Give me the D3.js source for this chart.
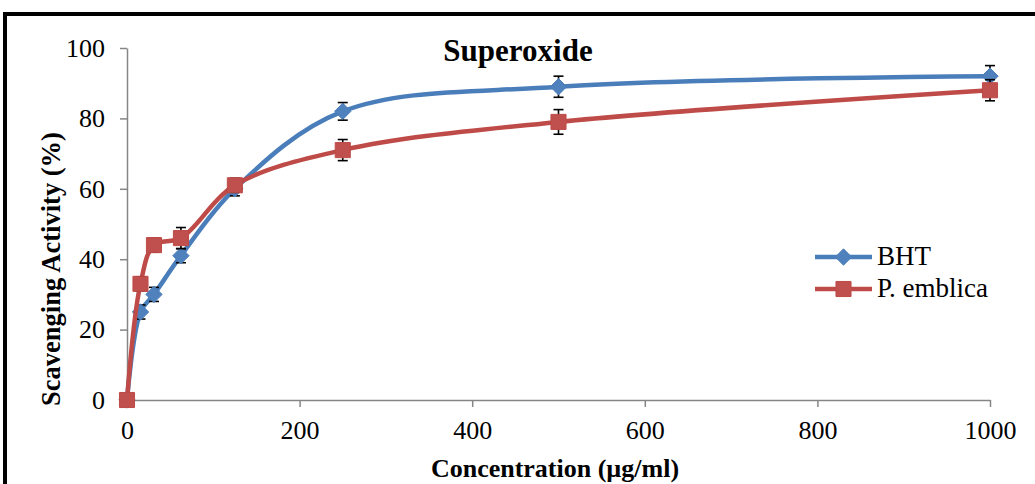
<!DOCTYPE html>
<html>
<head>
<meta charset="utf-8">
<script src="https://cdn.jsdelivr.net/npm/d3@7"></script>
<style>
  body { margin: 0; background: #fff; }
  svg { display: block; }
  text { font-family: "Liberation Serif", "Times New Roman", serif; fill: #000; }
</style>
</head>
<body>
<div id="chart"></div>
<script>
// Concentrations (µg/ml)
var concentrations = [0, 15.625, 31.25, 62.5, 125, 250, 500, 1000];
// Scavenging activity (%)
var bhtValues = [0, 25, 30, 41, 60, 82, 89, 92];
var bhtErrors = [0, 2, 2, 2, 2, 2.5, 3, 3];
var emblicaValues = [0, 33, 44, 46, 61, 71, 79, 88];
var emblicaErrors = [0, 2, 2, 3, 2, 3, 3.5, 3];
var xTicks = [0, 200, 400, 600, 800, 1000];
var yTicks = [0, 20, 40, 60, 80, 100];

var W = 1035, H = 484;
var margin = { left: 127, right: 45, top: 48, bottom: 84 };

var svg = d3.select('#chart').append('svg')
  .attr('width', W)
  .attr('height', H);

// Chart frame (thick black border, cut off right and bottom)
svg.append('rect')
  .attr('x', 5).attr('y', 14)
  .attr('width', W + 20).attr('height', H + 20)
  .attr('fill', 'none')
  .attr('stroke', '#000')
  .attr('stroke-width', 4);

var x = d3.scaleLinear().domain([0, 1000]).range([margin.left, W - margin.right]);
var y = d3.scaleLinear().domain([0, 100]).range([H - margin.bottom, margin.top]);

// Axes
var xAxis = d3.axisBottom(x).tickValues(xTicks).tickFormat(d3.format('d'))
  .tickSizeInner(7).tickSizeOuter(0).tickPadding(14);
var yAxis = d3.axisLeft(y).tickValues(yTicks).tickFormat(d3.format('d'))
  .tickSizeInner(7).tickSizeOuter(0).tickPadding(15);

var gx = svg.append('g')
  .attr('transform', 'translate(0,' + y(0) + ')')
  .call(xAxis);
var gy = svg.append('g')
  .attr('transform', 'translate(' + x(0) + ',0)')
  .call(yAxis);

[gx, gy].forEach(function(g) {
  g.select('.domain').attr('stroke', '#868686').attr('stroke-width', 1.5);
  g.selectAll('.tick line').attr('stroke', '#868686').attr('stroke-width', 1.5);
  g.selectAll('.tick text')
    .attr('font-family', '"Liberation Serif", "Times New Roman", serif')
    .attr('font-size', 26)
    .attr('fill', '#000');
});
gx.selectAll('.tick text').attr('dy', '0.71em');

// Title
svg.append('text')
  .attr('x', 518).attr('y', 61)
  .attr('text-anchor', 'middle')
  .attr('font-size', 31)
  .attr('font-weight', 'bold')
  .text('Superoxide');

// Axis titles
svg.append('text')
  .attr('x', 555).attr('y', 477)
  .attr('text-anchor', 'middle')
  .attr('font-size', 26)
  .attr('font-weight', 'bold')
  .text('Concentration (µg/ml)');

svg.append('text')
  .attr('transform', 'translate(60,269) rotate(-90)')
  .attr('text-anchor', 'middle')
  .attr('font-size', 26.5)
  .attr('font-weight', 'bold')
  .text('Scavenging Activity (%)');

var series = [
  { name: 'BHT', values: bhtValues, errors: bhtErrors, line: '#4A7EBB', fill: '#4F81BD', symbol: d3.symbolDiamond2, size: 170 },
  { name: 'P. emblica', values: emblicaValues, errors: emblicaErrors, line: '#BE4B48', fill: '#C0504D', symbol: d3.symbolSquare2, size: 290 }
];

var line = d3.line()
  .x(function(d) { return x(d.c); })
  .y(function(d) { return y(d.v); })
  .curve(d3.curveCatmullRom.alpha(0.5));

series.forEach(function(s) {
  var pts = concentrations.map(function(c, i) { return { c: c, v: s.values[i], e: s.errors[i] }; });
  var g = svg.append('g');

  g.append('path')
    .datum(pts)
    .attr('d', line)
    .attr('fill', 'none')
    .attr('stroke', s.line)
    .attr('stroke-width', 4.5)
    .attr('stroke-linejoin', 'round');

  // Error bars
  var eb = g.selectAll('.err').data(pts.filter(function(d) { return d.e > 0; }))
    .enter().append('g').attr('class', 'err')
    .attr('stroke', '#000').attr('stroke-width', 1.6);
  eb.append('line')
    .attr('x1', function(d) { return x(d.c); }).attr('x2', function(d) { return x(d.c); })
    .attr('y1', function(d) { return y(d.v - d.e); }).attr('y2', function(d) { return y(d.v + d.e); });
  eb.append('line')
    .attr('x1', function(d) { return x(d.c) - 5; }).attr('x2', function(d) { return x(d.c) + 5; })
    .attr('y1', function(d) { return y(d.v + d.e); }).attr('y2', function(d) { return y(d.v + d.e); });
  eb.append('line')
    .attr('x1', function(d) { return x(d.c) - 5; }).attr('x2', function(d) { return x(d.c) + 5; })
    .attr('y1', function(d) { return y(d.v - d.e); }).attr('y2', function(d) { return y(d.v - d.e); });

  g.selectAll('.mark').data(pts)
    .enter().append('path')
    .attr('class', 'mark')
    .attr('transform', function(d) { return 'translate(' + x(d.c) + ',' + y(d.v) + ')'; })
    .attr('d', d3.symbol().type(s.symbol).size(s.size))
    .attr('fill', s.fill)
    .attr('stroke', s.line)
    .attr('stroke-width', 1);
});

// Legend
var legend = svg.append('g');
series.forEach(function(s, i) {
  var ly = 257 + i * 32;
  legend.append('line')
    .attr('x1', 815).attr('x2', 872)
    .attr('y1', ly).attr('y2', ly)
    .attr('stroke', s.line).attr('stroke-width', 4.5);
  legend.append('path')
    .attr('transform', 'translate(843.5,' + ly + ')')
    .attr('d', d3.symbol().type(s.symbol).size(s.size))
    .attr('fill', s.fill)
    .attr('stroke', s.line);
  legend.append('text')
    .attr('x', 877).attr('y', ly + 8)
    .attr('font-size', 27)
    .text(s.name);
});
</script>
</body>
</html>
